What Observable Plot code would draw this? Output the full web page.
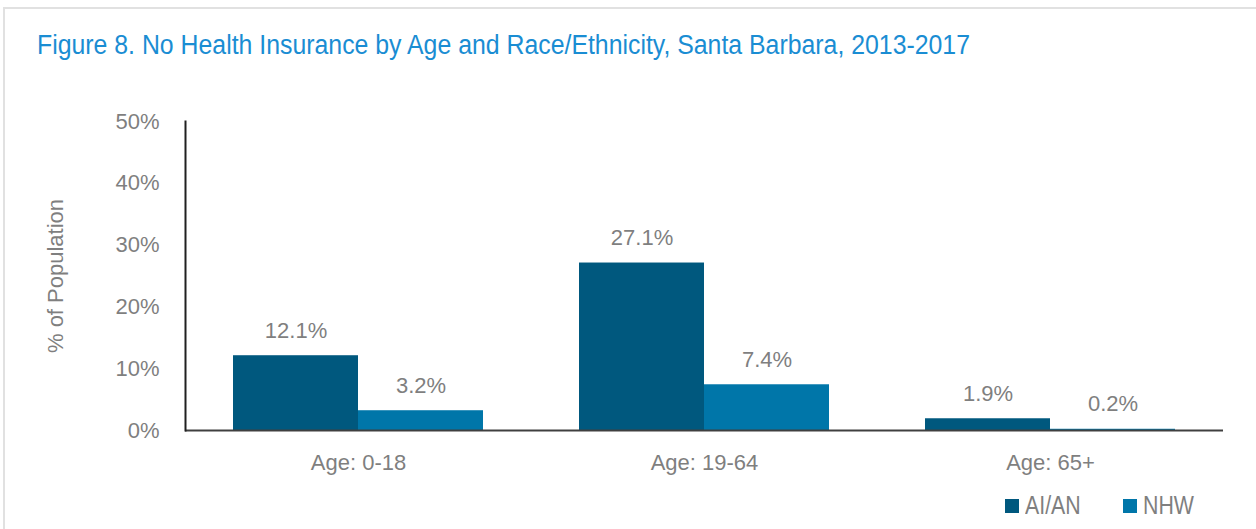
<!DOCTYPE html>
<html>
<head>
<meta charset="utf-8">
<script src="https://cdn.jsdelivr.net/npm/d3@7"></script>
<script src="https://cdn.jsdelivr.net/npm/@observablehq/plot@0.6"></script>
<style>
  html, body { margin: 0; padding: 0; background: #fff; }
  body { width: 1256px; height: 529px; overflow: hidden; position: relative;
         font-family: "Liberation Sans", Arial, sans-serif; }
  #frame { position: absolute; left: 3px; top: 7px; width: 1300px; height: 600px;
           border-top: 2px solid #e1e1e1; border-left: 2px solid #e1e1e1; }
  #title { position: absolute; left: 37px; top: 30px; font-size: 27px; color: #1a8dd3; white-space: nowrap;
           transform: scaleX(0.92); transform-origin: left center; }
  #chart { position: absolute; left: 0; top: 0; }
  #legend { position: absolute; left: 1005px; top: 490px; display: flex; font-size: 26px; color: #7f7f7f; }
  #legend .item { display: flex; align-items: center; }
  #legend .sw { width: 14px; height: 14px; margin-right: 6px; }
  #legend .lab { display: inline-block; transform: scaleX(0.82); transform-origin: left center; }
</style>
</head>
<body>
<div id="frame"></div>
<div id="title"></div>
<div id="chart"></div>
<div id="legend"></div>
<script>
const titleText = "Figure 8. No Health Insurance by Age and Race/Ethnicity, Santa Barbara, 2013-2017";
const ageGroups = ["Age: 0-18", "Age: 19-64", "Age: 65+"];
const series = ["AI/AN", "NHW"];
const aianValues = [12.1, 27.1, 1.9];
const nhwValues = [3.2, 7.4, 0.2];
const seriesColors = ["#00587e", "#0076a9"];
const yTicks = [0, 10, 20, 30, 40, 50];

const data = [];
ageGroups.forEach((age, i) => {
  data.push({age, series: series[0], value: aianValues[i]});
  data.push({age, series: series[1], value: nhwValues[i]});
});

document.getElementById("title").textContent = titleText;

const font = '"Liberation Sans", Arial, sans-serif';

const chart = Plot.plot({
  width: 1256,
  height: 529,
  marginTop: 121,
  marginBottom: 99,
  marginLeft: 184,
  marginRight: 32,
  style: {fontFamily: font, fontSize: "22px", color: "#7f7f7f", background: "transparent", overflow: "visible"},
  fx: {domain: ageGroups, padding: 0, axis: "bottom", label: null, tickSize: 0, tickPadding: 24, fontSize: 23},
  x: {domain: series, paddingInner: 0, paddingOuter: 0.375, axis: null},
  y: {domain: [0, 50], ticks: yTicks, tickFormat: d => d + "%", tickSize: 0, tickPadding: 26,
      label: "% of Population", labelAnchor: "center", labelArrow: false, labelOffset: 138},
  color: {domain: series, range: seriesColors},
  marks: [
    Plot.barY(data, {fx: "age", x: "series", y: "value", fill: "series"}),
    Plot.text(data, {fx: "age", x: "series", y: "value", text: d => d.value.toFixed(1) + "%",
      dy: -25, fill: "#7f7f7f", fontSize: 22}),
    Plot.ruleY([0], {stroke: "#404040", strokeWidth: 2}),
    Plot.frame({anchor: "left", fx: [ageGroups[0]], stroke: "#202020", strokeWidth: 2})
  ]
});
document.getElementById("chart").appendChild(chart);

const legend = document.getElementById("legend");
series.forEach((s, i) => {
  const item = document.createElement("div");
  item.className = "item";
  item.style.width = i === 0 ? "118px" : "auto";
  const sw = document.createElement("div");
  sw.className = "sw";
  sw.style.background = seriesColors[i];
  const label = document.createElement("span");
  label.className = "lab";
  label.textContent = s;
  item.appendChild(sw);
  item.appendChild(label);
  legend.appendChild(item);
});
</script>
</body>
</html>
